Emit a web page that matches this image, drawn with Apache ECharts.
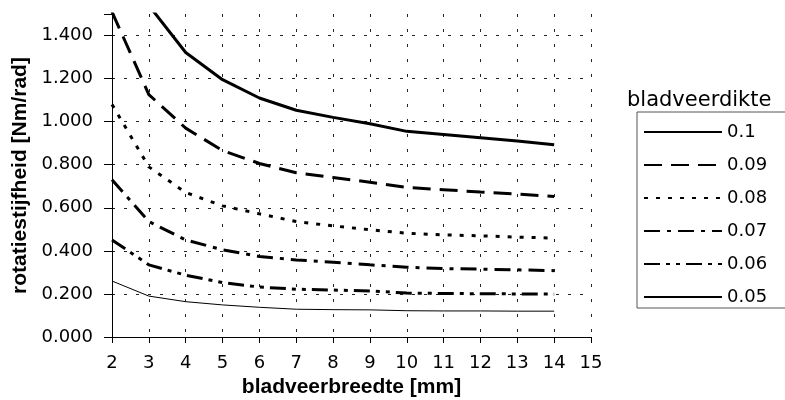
<!DOCTYPE html>
<html><head><meta charset="utf-8">
<script src="https://cdn.jsdelivr.net/npm/echarts@6/dist/echarts.min.js"></script>
<style>html,body{margin:0;padding:0;background:#fff}#c{width:785px;height:400px}</style>
</head><body><div id="c"></div>
<script>
const widths = [2,3,4,5,6,7,8,9,10,11,12,13,14];
const seriesNames = ['0.1','0.09','0.08','0.07','0.06','0.05'];
const s010 = [2.10, 1.54, 1.321, 1.195, 1.110, 1.053, 1.020, 0.990, 0.955, 0.940, 0.925, 0.910, 0.893];
const s009 = [1.51, 1.126, 0.970, 0.866, 0.806, 0.763, 0.741, 0.719, 0.695, 0.684, 0.673, 0.664, 0.653];
const s008 = [1.08, 0.790, 0.671, 0.609, 0.572, 0.536, 0.516, 0.498, 0.482, 0.474, 0.470, 0.464, 0.459];
const s007 = [0.730, 0.536, 0.451, 0.405, 0.374, 0.358, 0.347, 0.335, 0.324, 0.318, 0.315, 0.312, 0.308];
const s006 = [0.451, 0.335, 0.287, 0.253, 0.232, 0.222, 0.218, 0.214, 0.204, 0.202, 0.201, 0.200, 0.199];
const s005 = [0.260, 0.190, 0.164, 0.149, 0.138, 0.129, 0.127, 0.126, 0.122, 0.121, 0.121, 0.120, 0.120];
const allValues = [s010, s009, s008, s007, s006, s005];
const yTicks = [0, 0.2, 0.4, 0.6, 0.8, 1.0, 1.2, 1.4];
const legendTitle = 'bladveerdikte';
const xName = 'bladveerbreedte [mm]';
const yName = 'rotatiestijfheid [Nm/rad]';

const styles = [
  {width: 3, type: 'solid'},
  {width: 3, type: [18, 9]},
  {width: 3, type: [4, 8]},
  {width: 3, type: [16, 7, 4, 7]},
  {width: 3, type: [16, 6, 4, 6, 4, 6]},
  {width: 1, type: 'solid'}
];
const FONT = 'DejaVu Sans, sans-serif';
const BFONT = 'Liberation Sans, Arial, sans-serif';
const chart = echarts.init(document.getElementById('c'), null, {renderer: 'canvas'});
chart.setOption({
  animation: false,
  backgroundColor: '#fff',
  grid: {left: 112, right: 194, top: 14, bottom: 63, containLabel: false, outerBoundsMode: 'none'},
  title: {text: legendTitle, left: 627, top: 90, padding: 0,
    textStyle: {fontFamily: FONT, fontSize: 21, fontWeight: 'normal', color: '#000'}},
  legend: {
    orient: 'vertical', left: 637, top: 112,
    padding: [11, 24, 2, 6],
    itemWidth: 78, itemHeight: 14, itemGap: 15,
    borderColor: '#555', borderWidth: 1,
    itemStyle: {opacity: 0},
    textStyle: {fontFamily: FONT, fontSize: 18, lineHeight: 18, color: '#000'},
    data: seriesNames
  },
  xAxis: {
    type: 'value', min: 2, max: 15, interval: 1,
    name: xName, nameLocation: 'middle', nameGap: 33,
    nameTextStyle: {fontFamily: BFONT, fontSize: 21, fontWeight: 'bold', color: '#000'},
    axisLine: {show: true, lineStyle: {color: '#000', width: 1}},
    axisTick: {show: true, length: 6, lineStyle: {color: '#000'}},
    axisLabel: {fontFamily: FONT, fontSize: 18, color: '#000', margin: 17},
    splitLine: {show: true, lineStyle: {color: '#222', width: 1, type: [3, 12]}}
  },
  yAxis: {
    type: 'value', min: 0, max: 1.5, interval: 0.2,
    name: yName, nameLocation: 'middle', nameGap: 81,
    nameTextStyle: {fontFamily: BFONT, fontSize: 21, fontWeight: 'bold', color: '#000'},
    axisLine: {show: true, lineStyle: {color: '#000', width: 1}},
    axisTick: {show: true, length: 8, lineStyle: {color: '#000'}},
    axisLabel: {fontFamily: FONT, fontSize: 18, color: '#000', margin: 19,
      formatter: v => (yTicks.some(t => Math.abs(t - v) < 1e-9) ? v.toFixed(3) : '')},
    splitLine: {show: true, lineStyle: {color: ['#222','#222','#222','#222','#222','#222','#222','#222','rgba(0,0,0,0)'], width: 1, type: [3, 9]}}
  },
  series: seriesNames.map((n, i) => ({
    name: n, type: 'line', symbol: 'none', clip: true,
    data: widths.map((w, j) => [w, allValues[i][j]]),
    lineStyle: {color: '#000', width: styles[i].width, type: styles[i].type},
    itemStyle: {color: '#000'}
  }))
});
</script></body></html>
